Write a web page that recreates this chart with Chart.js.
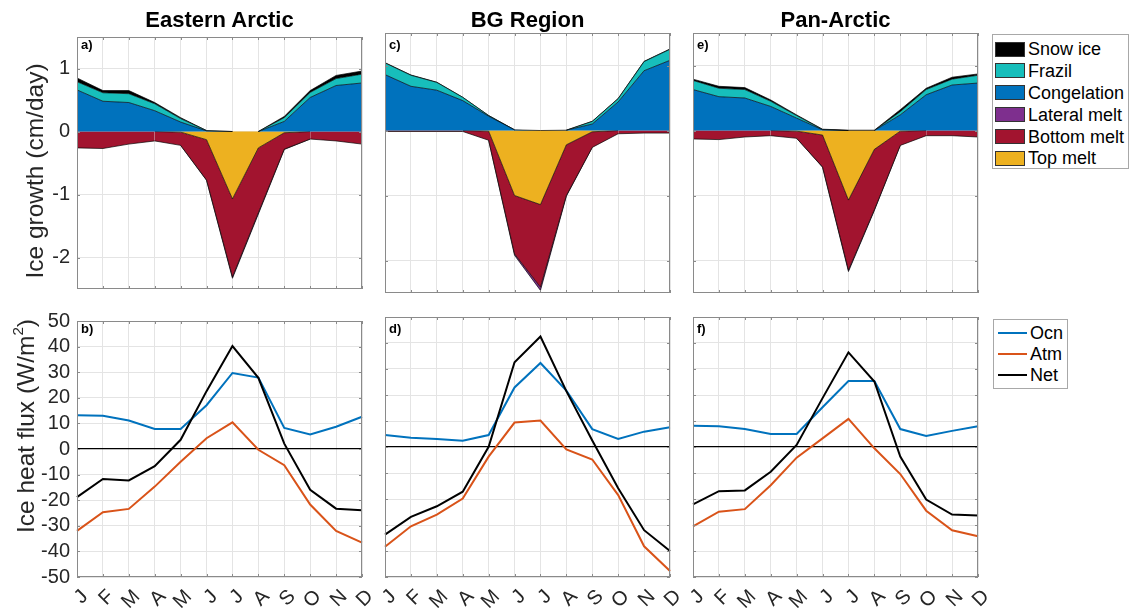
<!DOCTYPE html>
<html>
<head>
<meta charset="utf-8">
<script src="https://cdn.jsdelivr.net/npm/chart.js@4.4.1/dist/chart.umd.min.js"></script>
<style>
  html, body { margin: 0; padding: 0; background: #fff; }
  #fig { position: relative; width: 1132px; height: 610px; overflow: hidden;
         font-family: "Liberation Sans", Arial, Helvetica, sans-serif; color: #000; }
  #fig canvas { position: absolute; }
  .ttl { position: absolute; width: 285px; text-align: center; font-weight: bold;
         font-size: 22px; line-height: 22px; white-space: nowrap; }
  .tag { position: absolute; font-weight: bold; font-size: 13px; line-height: 13px; }
  .ylab { position: absolute; width: 300px; height: 24px; text-align: center;
          font-size: 24.5px; line-height: 24px; white-space: nowrap;
          transform: rotate(-90deg); color: #262626; }
  .ylab sup { font-size: 0.62em; position: relative; top: -0.1em; vertical-align: super; line-height: 0; }
  .leg { position: absolute; border: 1px solid #a8a8a8; background: #fff; box-sizing: border-box; }
  .leg .sw { position: absolute; width: 30px; height: 15px; box-sizing: border-box; border: 1px solid #333; }
  .leg .ln { position: absolute; width: 29px; height: 2px; }
  .leg .tx { position: absolute; font-size: 18px; line-height: 18px; white-space: nowrap; }
</style>
</head>
<body>
<div id="fig"></div>
<script>
// ---- Months and panel titles ----
const months = ['J', 'F', 'M', 'A', 'M', 'J', 'J', 'A', 'S', 'O', 'N', 'D'];
const regions = ['Eastern Arctic', 'BG Region', 'Pan-Arctic'];
const growthTags = ['a)', 'c)', 'e)'];
const fluxTags = ['b)', 'd)', 'f)'];
const growthTicks = [-2, -1, 0, 1];
const fluxTicks = [-50, -40, -30, -20, -10, 0, 10, 20, 30, 40, 50];

// ---- Ice growth terms (cm/day), Eastern Arctic ----
const congelationEA = [0.66, 0.48, 0.46, 0.33, 0.15, 0.01, 0, 0, 0.16, 0.54, 0.73, 0.77];
const frazilEA      = [0.13, 0.135, 0.14, 0.11, 0.055, 0.005, 0, 0, 0.06, 0.08, 0.11, 0.14];
const snowIceEA     = [0.06, 0.035, 0.05, 0.02, 0.015, 0, 0, 0, 0.02, 0.03, 0.05, 0.05];
const lateralMeltEA = [0, 0, 0, 0, 0, -0.005, -0.02, -0.02, -0.005, 0, 0, 0];
const bottomMeltEA  = [-0.26, -0.27, -0.2, -0.15, -0.21, -0.64, -1.24, -1.03, -0.26, -0.12, -0.15, -0.2];
const topMeltEA     = [0, 0, 0, 0, -0.01, -0.13, -1.07, -0.26, -0.02, 0, 0, 0];

// ---- Ice growth terms (cm/day), BG Region ----
const congelationBG = [0.86, 0.68, 0.62, 0.46, 0.22, 0.01, 0, 0.005, 0.1, 0.44, 0.92, 1.08];
const frazilBG      = [0.18, 0.17, 0.12, 0.05, 0.01, 0, 0, 0, 0.04, 0.05, 0.14, 0.17];
const snowIceBG     = [0.004, 0.004, 0.003, 0.002, 0.001, 0, 0, 0, 0.002, 0.003, 0.004, 0.005];
const lateralMeltBG = [0, 0, 0, 0, 0, -0.02, -0.05, -0.01, 0, 0, 0, 0];
const bottomMeltBG  = [-0.015, -0.015, -0.015, -0.015, -0.14, -0.9, -1.27, -0.78, -0.24, -0.05, -0.04, -0.04];
const topMeltBG     = [0, 0, 0, 0, -0.01, -1.0, -1.14, -0.22, -0.02, 0, 0, 0];

// ---- Ice growth terms (cm/day), Pan-Arctic ----
const congelationPA = [0.63, 0.52, 0.5, 0.37, 0.19, 0.01, 0, 0, 0.24, 0.55, 0.7, 0.73];
const frazilPA      = [0.14, 0.13, 0.13, 0.08, 0.04, 0.005, 0, 0, 0.05, 0.08, 0.09, 0.12];
const snowIcePA     = [0.02, 0.03, 0.03, 0.02, 0.01, 0.005, 0.005, 0.005, 0.03, 0.02, 0.03, 0.02];
const lateralMeltPA = [0, 0, 0, 0, 0, -0.005, -0.02, -0.01, 0, 0, 0, 0];
const bottomMeltPA  = [-0.13, -0.14, -0.1, -0.08, -0.11, -0.49, -1.08, -0.93, -0.22, -0.08, -0.08, -0.1];
const topMeltPA     = [0, 0, 0, 0, -0.01, -0.07, -1.07, -0.29, -0.01, 0, 0, 0];

// ---- Ice heat flux (W/m2) ----
const ocnEA = [13.2, 13.0, 11.1, 7.8, 7.8, 17.1, 29.7, 27.9, 8.2, 5.7, 8.7, 12.6];
const atmEA = [-32.0, -24.7, -23.4, -14.7, -5.0, 4.2, 10.4, -0.3, -6.3, -21.7, -32.0, -36.6];
const netEA = [-18.8, -11.7, -12.3, -6.7, 3.6, 22.6, 40.2, 27.8, 2.1, -15.9, -23.3, -23.9];

const ocnBG = [4.6, 3.6, 3.1, 2.4, 4.6, 22.9, 32.3, 21.7, 6.9, 3.1, 5.9, 7.6];
const atmBG = [-38.4, -30.5, -26.0, -19.8, -3.7, 9.4, 10.2, -0.9, -4.8, -18.5, -38.2, -47.7];
const netBG = [-33.7, -26.9, -22.8, -17.2, 0.1, 32.6, 42.5, 21.5, 2.5, -15.9, -32.0, -40.0];

const ocnPA = [8.2, 8.0, 6.9, 5.0, 5.0, 15.3, 25.4, 25.4, 6.9, 4.2, 6.2, 8.0];
const atmPA = [-30.5, -24.9, -23.9, -14.7, -4.1, 3.3, 10.8, -0.5, -10.4, -24.5, -32.0, -34.3];
const netPA = [-22.1, -17.0, -16.7, -9.5, 0.8, 18.8, 36.4, 25.2, -3.7, -20.2, -26.0, -26.3];

// ---- Styling ----
const FONT = '"Liberation Sans", Arial, Helvetica, sans-serif';
const tickFont = { family: FONT, size: 20 };
const tickColor = '#262626';
const GRID = '#e4e4e4';
const AXIS = '#8a8a8a';
const COL = {
  snowIce: '#000000', frazil: '#17BEBB', congelation: '#0072BD',
  lateralMelt: '#7E2F8E', bottomMelt: '#A2142F', topMelt: '#EDB120',
  ocn: '#0072BD', atm: '#D95319', net: '#000000'
};

// ---- Panel geometry ----
const PW = 285, PH = 260;
const colLeft = [77, 385, 693];
const rowTop = [33, 317];

const fig = document.getElementById('fig');

function addCanvas(left, top, w, h) {
  const c = document.createElement('canvas');
  c.width = w; c.height = h;
  c.style.left = left + 'px'; c.style.top = top + 'px';
  c.style.width = w + 'px'; c.style.height = h + 'px';
  fig.appendChild(c);
  return c;
}

function addDiv(cls, html, css) {
  const d = document.createElement('div');
  d.className = cls;
  d.innerHTML = html;
  Object.assign(d.style, css);
  fig.appendChild(d);
  return d;
}

// Axes box with inward tick marks on all four sides
const axesBox = {
  id: 'axesBox',
  afterDraw(chart) {
    const { ctx, chartArea: a, scales: { x, y } } = chart;
    ctx.save();
    ctx.strokeStyle = AXIS;
    ctx.lineWidth = 1;
    ctx.beginPath();
    x.ticks.forEach((t, i) => {
      const px = Math.round(x.getPixelForTick(i)) + 0.5;
      ctx.moveTo(px, a.bottom); ctx.lineTo(px, a.bottom - 3);
      ctx.moveTo(px, a.top); ctx.lineTo(px, a.top + 3);
    });
    y.ticks.forEach(t => {
      const py = Math.round(y.getPixelForValue(t.value)) + 0.5;
      ctx.moveTo(a.left, py); ctx.lineTo(a.left + 3, py);
      ctx.moveTo(a.right, py); ctx.lineTo(a.right - 3, py);
    });
    ctx.stroke();
    ctx.strokeRect(Math.round(a.left) + 0.5, Math.round(a.top) + 0.5,
                   Math.round(a.right - a.left) - 1, Math.round(a.bottom - a.top) - 1);
    ctx.restore();
  }
};

const baseOptions = (padding) => ({
  responsive: false,
  animation: false,
  devicePixelRatio: 1,
  layout: { padding },
  plugins: { legend: { display: false }, tooltip: { enabled: false }, title: { display: false } },
  elements: { point: { radius: 0 }, line: { tension: 0 } }
});

// Stacked growth/melt areas
function growthChart(col, s) {
  const first = col === 0;
  const yW = first ? colLeft[0] : 0;
  const pad = { left: first ? 0 : 30, right: 30, top: 15, bottom: 15 };
  const cv = addCanvas(colLeft[col] - yW - pad.left, rowTop[0] - pad.top,
                       pad.left + yW + PW + pad.right, pad.top + PH + pad.bottom);
  const edge = 'rgba(0,0,0,0.85)';
  const seg = { borderColor: c => (c.p0.parsed.y === 0 && c.p1.parsed.y === 0) ? 'rgba(0,0,0,0)' : edge };
  const layer = (label, data, color, stack, fill) => ({
    label, data, stack, fill, backgroundColor: color, borderColor: edge,
    borderWidth: 0.8, segment: seg, pointRadius: 0
  });
  const opts = baseOptions(pad);
  opts.scales = {
    x: {
      offset: false,
      grid: { color: GRID, drawTicks: false },
      border: { display: false },
      ticks: { display: false, autoSkip: false },
      afterFit: sc => { sc.height = 0; }
    },
    y: {
      stacked: true, min: -2.5, max: 1.5,
      afterBuildTicks: sc => { sc.ticks = growthTicks.map(v => ({ value: v })); },
      grid: { color: GRID, drawTicks: false },
      border: { display: false },
      ticks: { display: first, autoSkip: false, padding: 7, font: tickFont, color: tickColor },
      afterFit: sc => { sc.width = yW; }
    }
  };
  new Chart(cv, {
    type: 'line',
    data: {
      labels: months,
      datasets: [
        layer('Congelation', s.congelation, COL.congelation, 'growth', 'origin'),
        layer('Frazil', s.frazil, COL.frazil, 'growth', '-1'),
        layer('Snow ice', s.snowIce, COL.snowIce, 'growth', '-1'),
        layer('Top melt', s.topMelt, COL.topMelt, 'melt', 'origin'),
        layer('Bottom melt', s.bottomMelt, COL.bottomMelt, 'melt', '-1'),
        layer('Lateral melt', s.lateralMelt, COL.lateralMelt, 'melt', '-1')
      ]
    },
    options: opts,
    plugins: [axesBox]
  });
}

// Heat flux lines
function fluxChart(col, s) {
  const first = col === 0;
  const yW = first ? colLeft[0] : 0;
  const xH = 35;
  const pad = { left: first ? 0 : 30, right: 30, top: 15, bottom: 5 };
  const cv = addCanvas(colLeft[col] - yW - pad.left, rowTop[1] - pad.top,
                       pad.left + yW + PW + pad.right, pad.top + PH + xH + pad.bottom);
  const line = (label, data, color, order) => ({
    label, data, order, borderColor: color, backgroundColor: color,
    borderWidth: 2, fill: false, pointRadius: 0
  });
  const opts = baseOptions(pad);
  opts.scales = {
    x: {
      offset: false,
      grid: { color: GRID, drawTicks: false },
      border: { display: false },
      ticks: { display: true, autoSkip: false, minRotation: 45, maxRotation: 45,
               labelOffset: 8, padding: 8, font: tickFont, color: tickColor },
      afterFit: sc => { sc.height = xH; }
    },
    y: {
      min: -50, max: 50,
      afterBuildTicks: sc => { sc.ticks = fluxTicks.map(v => ({ value: v })); },
      grid: {
        color: c => (c.tick && c.tick.value === 0) ? '#000' : GRID,
        lineWidth: c => (c.tick && c.tick.value === 0) ? 1.3 : 1,
        drawTicks: false
      },
      border: { display: false },
      ticks: { display: first, autoSkip: false, padding: 7, font: tickFont, color: tickColor },
      afterFit: sc => { sc.width = yW; }
    }
  };
  new Chart(cv, {
    type: 'line',
    data: {
      labels: months,
      datasets: [
        line('Ocn', s.ocn, COL.ocn, 3),
        line('Atm', s.atm, COL.atm, 2),
        line('Net', s.net, COL.net, 1)
      ]
    },
    options: opts,
    plugins: [axesBox]
  });
}

const growthSets = [
  { congelation: congelationEA, frazil: frazilEA, snowIce: snowIceEA, lateralMelt: lateralMeltEA, bottomMelt: bottomMeltEA, topMelt: topMeltEA },
  { congelation: congelationBG, frazil: frazilBG, snowIce: snowIceBG, lateralMelt: lateralMeltBG, bottomMelt: bottomMeltBG, topMelt: topMeltBG },
  { congelation: congelationPA, frazil: frazilPA, snowIce: snowIcePA, lateralMelt: lateralMeltPA, bottomMelt: bottomMeltPA, topMelt: topMeltPA }
];
const fluxSets = [
  { ocn: ocnEA, atm: atmEA, net: netEA },
  { ocn: ocnBG, atm: atmBG, net: netBG },
  { ocn: ocnPA, atm: atmPA, net: netPA }
];

for (let c = 0; c < 3; c++) {
  growthChart(c, growthSets[c]);
  fluxChart(c, fluxSets[c]);
  addDiv('ttl', regions[c], { left: colLeft[c] + 'px', top: '9px' });
  addDiv('tag', growthTags[c], { left: (colLeft[c] + 4) + 'px', top: (rowTop[0] + 5) + 'px' });
  addDiv('tag', fluxTags[c], { left: (colLeft[c] + 4) + 'px', top: (rowTop[1] + 5) + 'px' });
}

// Axis titles
addDiv('ylab', 'Ice growth (cm/day)', { left: (34.5 - 150) + 'px', top: (170.5 - 12) + 'px' });
addDiv('ylab', 'Ice heat flux (W/m<sup>2</sup>)', { left: (26 - 150) + 'px', top: (425.5 - 12) + 'px' });

// Legend for the growth terms
const growthLegend = [
  ['Snow ice', COL.snowIce], ['Frazil', COL.frazil], ['Congelation', COL.congelation],
  ['Lateral melt', COL.lateralMelt], ['Bottom melt', COL.bottomMelt], ['Top melt', COL.topMelt]
];
const leg1 = addDiv('leg', '', { left: '992px', top: '34px', width: '137px', height: '135px' });
growthLegend.forEach(([name, color], i) => {
  const cy = 14 + 21.8 * i;
  const sw = document.createElement('div');
  sw.className = 'sw';
  Object.assign(sw.style, { left: '2px', top: (cy - 7.5) + 'px', background: color });
  leg1.appendChild(sw);
  const tx = document.createElement('div');
  tx.className = 'tx';
  tx.textContent = name;
  Object.assign(tx.style, { left: '35px', top: (cy - 8.7) + 'px' });
  leg1.appendChild(tx);
});

// Legend for the flux lines
const fluxLegend = [['Ocn', COL.ocn], ['Atm', COL.atm], ['Net', COL.net]];
const leg2 = addDiv('leg', '', { left: '993px', top: '319px', width: '75px', height: '70px' });
fluxLegend.forEach(([name, color], i) => {
  const cy = 13 + 21 * i;
  const ln = document.createElement('div');
  ln.className = 'ln';
  Object.assign(ln.style, { left: '4px', top: (cy - 1) + 'px', background: color });
  leg2.appendChild(ln);
  const tx = document.createElement('div');
  tx.className = 'tx';
  tx.textContent = name;
  Object.assign(tx.style, { left: '36px', top: (cy - 8.7) + 'px' });
  leg2.appendChild(tx);
});
</script>
</body>
</html>
